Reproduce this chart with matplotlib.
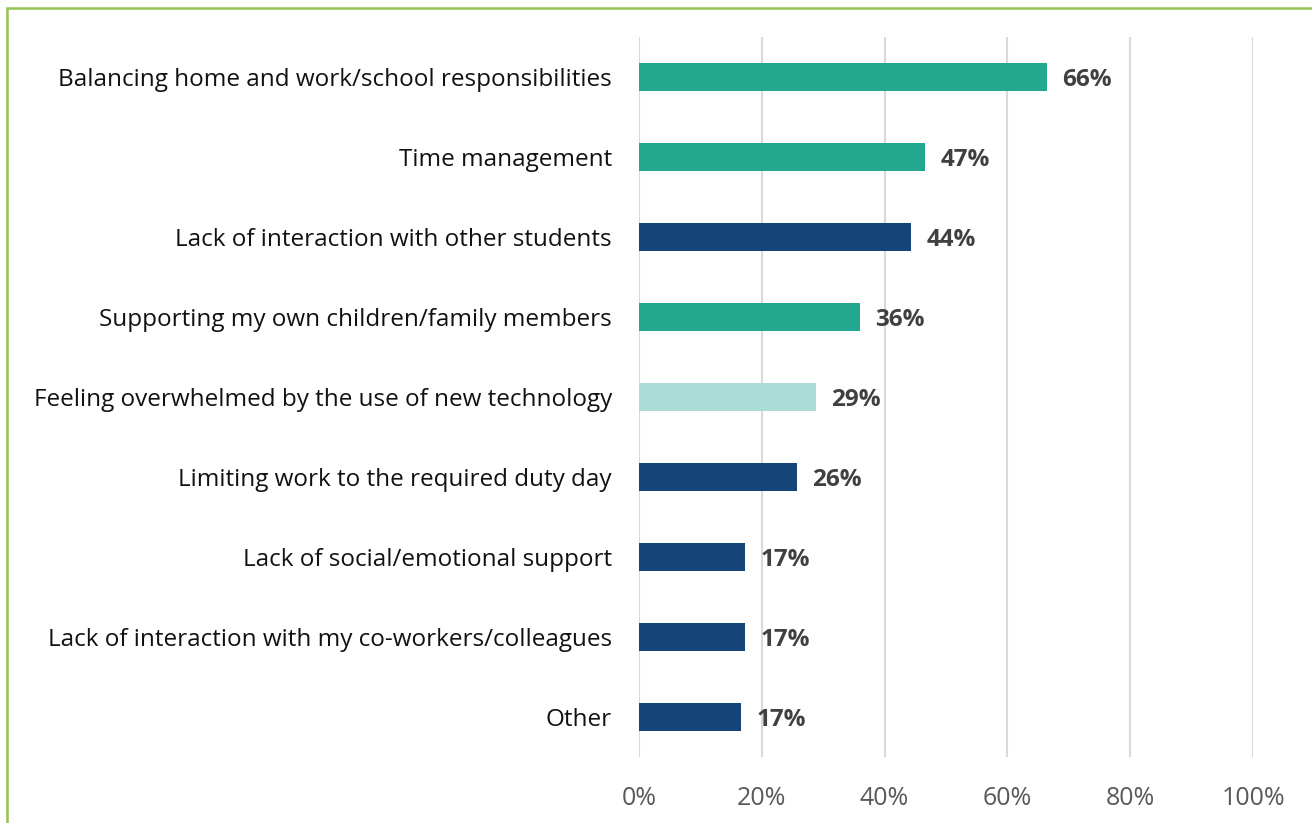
import matplotlib.pyplot as plt
from matplotlib.patches import Rectangle

# Chart data
categories = [
    "Balancing home and work/school responsibilities",
    "Time management",
    "Lack of interaction with other students",
    "Supporting my own children/family members",
    "Feeling overwhelmed by the use of new technology",
    "Limiting work to the required duty day",
    "Lack of social/emotional support",
    "Lack of interaction with my co-workers/colleagues",
    "Other",
]
values = [66.4, 46.6, 44.3, 36.0, 28.8, 25.7, 17.3, 17.3, 16.6]
labels = ["66%", "47%", "44%", "36%", "29%", "26%", "17%", "17%", "17%"]
groups = ["teal", "teal", "navy", "teal", "light", "navy", "navy", "navy", "navy"]

palette = {"teal": "#23A88F", "navy": "#154578", "light": "#A9DDD5"}
colors = [palette[g] for g in groups]

plt.rcParams['font.family'] = ['Open Sans', 'DejaVu Sans']

fig = plt.figure(figsize=(13.12, 8.23), dpi=100)
ax = fig.add_axes([639 / 1312, 1 - 757 / 823, 614 / 1312, 720 / 823])

y = list(range(len(categories)))
ax.barh(y, values, height=0.36, color=colors, zorder=3)

# Value labels next to each bar
for i, v in enumerate(values):
    ax.text(v + 2.5, i, labels[i], va='center_baseline', ha='left', fontsize=17.5,
            fontweight='bold', color='#404040')

ax.set_xlim(0, 100)
ax.set_ylim(len(categories) - 0.5, -0.5)
ax.set_yticks(y)
ax.set_yticklabels(categories, fontsize=17.5, color='#111111')
ax.set_xticks([0, 20, 40, 60, 80, 100])
ax.set_xticklabels(["0%", "20%", "40%", "60%", "80%", "100%"], fontsize=18, color='#595959')
ax.tick_params(axis='both', length=0)
ax.tick_params(axis='y', pad=19.5)
ax.tick_params(axis='x', pad=21)
ax.xaxis.grid(True, color='#D9D9D9', linewidth=1.5, zorder=0)
for s in ax.spines.values():
    s.set_visible(False)

# Green frame around the figure (bottom/right run off the page)
fig.patches.append(Rectangle((7 / 1312, -0.1), 1.2, 1 - 8 / 823 + 0.1,
                             transform=fig.transFigure, fill=False,
                             edgecolor='#92C353', linewidth=1.8))

fig.savefig("out.png", dpi=100)
